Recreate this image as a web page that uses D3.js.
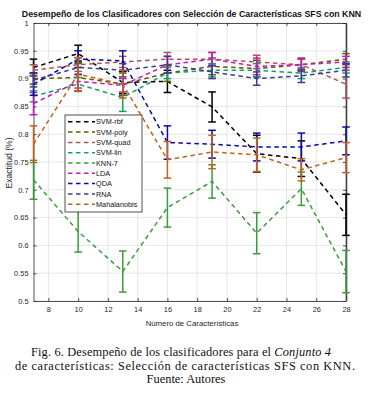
<!DOCTYPE html>
<html>
<head>
<meta charset="utf-8">
<script src="https://cdn.jsdelivr.net/npm/d3@7"></script>
<style>
  body { margin: 0; background: #fff; }
  svg { display: block; }
</style>
</head>
<body>
<script>
// numero de caracteristicas
var features = [7, 10, 13, 16, 19, 22, 25, 28];

var names = ["SVM-rbf", "SVM-poly", "SVM-quad", "SVM-lin", "KNN-7", "LDA", "QDA", "RNA", "Mahalanobis"];
var colors = ["#000000", "#5c5c00", "#b05252", "#16a060", "#3c9c3c", "#c418c4", "#0a0aa6", "#3c3c96", "#c0621e"];

// exactitud media
var svmRbf  = [0.920, 0.945, 0.893, 0.895, 0.849, 0.765, 0.756, 0.655];
var svmPoly = [0.900, 0.902, 0.890, 0.910, 0.922, 0.918, 0.925, 0.935];
var svmQuad = [0.915, 0.925, 0.930, 0.935, 0.935, 0.930, 0.925, 0.890];
var svmLin  = [0.868, 0.890, 0.866, 0.910, 0.915, 0.915, 0.910, 0.920];
var knn7    = [0.718, 0.625, 0.553, 0.668, 0.715, 0.622, 0.702, 0.553];
var lda     = [0.855, 0.895, 0.888, 0.925, 0.935, 0.922, 0.925, 0.930];
var qda     = [0.890, 0.935, 0.932, 0.785, 0.782, 0.777, 0.777, 0.788];
var rna     = [0.897, 0.920, 0.915, 0.925, 0.912, 0.900, 0.905, 0.915];
var mahal   = [0.782, 0.908, 0.890, 0.754, 0.768, 0.763, 0.736, 0.758];

// media anchura de las barras de error
var errRbf  = [0.015, 0.015, 0.020, 0.020, 0.027, 0.033, 0.032, 0.037];
var errPoly = [0.010, 0.025, 0.020, 0.015, 0.015, 0.015, 0.012, 0.010];
var errQuad = [0.010, 0.012, 0.010, 0.012, 0.012, 0.012, 0.010, 0.025];
var errLin  = [0.010, 0.012, 0.025, 0.010, 0.012, 0.012, 0.010, 0.010];
var errKnn  = [0.035, 0.037, 0.037, 0.035, 0.030, 0.037, 0.030, 0.038];
var errLda  = [0.020, 0.012, 0.012, 0.015, 0.012, 0.015, 0.010, 0.010];
var errQda  = [0.020, 0.015, 0.018, 0.030, 0.025, 0.025, 0.025, 0.025];
var errRna  = [0.012, 0.012, 0.012, 0.015, 0.012, 0.012, 0.012, 0.012];
var errMah  = [0.033, 0.030, 0.025, 0.033, 0.030, 0.030, 0.020, 0.027];

var xTicks = [8, 10, 12, 14, 16, 18, 20, 22, 24, 26, 28];
var yTicks = [0.5, 0.55, 0.6, 0.65, 0.7, 0.75, 0.8, 0.85, 0.9, 0.95, 1];

var captionLines = [
  ["Fig. 6. Desempeño de los clasificadores para el ", "Conjunto 4"],
  ["de características: Selección de características SFS con KNN."],
  ["Fuente: Autores"]
];

var means = [svmRbf, svmPoly, svmQuad, svmLin, knn7, lda, qda, rna, mahal];
var errs = [errRbf, errPoly, errQuad, errLin, errKnn, errLda, errQda, errRna, errMah];

var series = names.map(function (n, i) {
  return {
    name: n,
    color: colors[i],
    points: features.map(function (f, j) {
      return { x: f, y: means[i][j], e: errs[i][j] };
    })
  };
});

var width = 372, height = 400;
var margin = { left: 33.5, right: 26, top: 23, bottom: 99 };

var svg = d3.select("body").append("svg")
  .attr("width", width)
  .attr("height", height);

var x = d3.scaleLinear().domain([7, 28]).range([margin.left, width - margin.right]);
var y = d3.scaleLinear().domain([0.5, 1]).range([height - margin.bottom, margin.top]);

var axisFont = "'Liberation Sans', Arial, sans-serif";

//Grid
svg.append("g").selectAll("line").data(xTicks).join("line")
  .attr("x1", d => x(d)).attr("x2", d => x(d))
  .attr("y1", y(0.5)).attr("y2", y(1))
  .attr("stroke", "#e0e0e0").attr("stroke-width", 0.8);
svg.append("g").selectAll("line").data(yTicks).join("line")
  .attr("x1", x(7)).attr("x2", x(28))
  .attr("y1", d => y(d)).attr("y2", d => y(d))
  .attr("stroke", "#e0e0e0").attr("stroke-width", 0.8);

//Axes
var xAxis = svg.append("g")
  .attr("transform", "translate(0," + y(0.5) + ")")
  .call(d3.axisBottom(x).tickValues(xTicks).tickSizeInner(-3).tickSizeOuter(0).tickPadding(6));
var xAxisTop = svg.append("g")
  .attr("transform", "translate(0," + y(1) + ")")
  .call(d3.axisTop(x).tickValues(xTicks).tickSizeInner(-3).tickSizeOuter(0).tickFormat(""));
var yAxis = svg.append("g")
  .attr("transform", "translate(" + x(7) + ",0)")
  .call(d3.axisLeft(y).tickValues(yTicks).tickSizeInner(-3).tickSizeOuter(0).tickPadding(5)
    .tickFormat(d => d3.format("")(+d.toFixed(2))));
var yAxisRight = svg.append("g")
  .attr("transform", "translate(" + x(28) + ",0)")
  .call(d3.axisRight(y).tickValues(yTicks).tickSizeInner(-3).tickSizeOuter(0).tickFormat(""));

[xAxis, xAxisTop, yAxis, yAxisRight].forEach(function (g) {
  g.select(".domain").attr("stroke", "#262626").attr("stroke-width", 0.8);
  g.selectAll(".tick line").attr("stroke", "#262626").attr("stroke-width", 0.8);
  g.selectAll(".tick text").attr("font-family", axisFont).attr("font-size", 7.4).attr("fill", "#262626");
});
yAxisRight.select(".domain").attr("stroke-width", 1.6).attr("stroke", "#444");

//Series: dashed lines with error bars
var line = d3.line().x(d => x(d.x)).y(d => y(d.y));
var cap = 3.8;

series.forEach(function (s) {
  var g = svg.append("g");
  g.append("path")
    .datum(s.points)
    .attr("d", line)
    .attr("fill", "none")
    .attr("stroke", s.color)
    .attr("stroke-width", 1.5)
    .attr("stroke-dasharray", "4.5,3.5");
  var bars = g.selectAll(".bar").data(s.points).join("g").attr("class", "bar");
  bars.append("line")
    .attr("x1", d => x(d.x)).attr("x2", d => x(d.x))
    .attr("y1", d => y(d.y - d.e)).attr("y2", d => y(d.y + d.e));
  bars.append("line")
    .attr("x1", d => x(d.x) - cap).attr("x2", d => x(d.x) + cap)
    .attr("y1", d => y(d.y - d.e)).attr("y2", d => y(d.y - d.e));
  bars.append("line")
    .attr("x1", d => x(d.x) - cap).attr("x2", d => x(d.x) + cap)
    .attr("y1", d => y(d.y + d.e)).attr("y2", d => y(d.y + d.e));
  bars.selectAll("line").attr("stroke", s.color).attr("stroke-width", 1.5);
});

//Legend
var legend = svg.append("g").attr("transform", "translate(65,115)");
legend.append("rect")
  .attr("width", 77).attr("height", 97)
  .attr("fill", "#fff").attr("stroke", "#262626").attr("stroke-width", 0.8);
var items = legend.selectAll(".item").data(series).join("g")
  .attr("class", "item")
  .attr("transform", (d, i) => "translate(0," + (6.8 + i * 10.3) + ")");
items.append("line")
  .attr("x1", 3).attr("x2", 30).attr("y1", 0).attr("y2", 0)
  .attr("stroke", d => d.color).attr("stroke-width", 1.5)
  .attr("stroke-dasharray", "4.5,3.5");
items.append("text")
  .attr("x", 31).attr("y", 2.6)
  .attr("font-family", axisFont).attr("font-size", 7.3).attr("fill", "#111")
  .text(d => d.name);

//Titles
svg.append("text")
  .attr("x", 191.5).attr("y", 17)
  .attr("text-anchor", "middle")
  .attr("font-family", axisFont).attr("font-weight", "bold").attr("font-size", 8.8)
  .attr("fill", "#111")
  .text("Desempeño de los Clasificadores con Selección de Características SFS con KNN");

svg.append("text")
  .attr("x", 192).attr("y", 326)
  .attr("text-anchor", "middle")
  .attr("font-family", axisFont).attr("font-size", 7.8).attr("fill", "#262626")
  .text("Número de Características");

svg.append("text")
  .attr("transform", "translate(11.5," + (y(0.75) + 1) + ") rotate(-90)")
  .attr("text-anchor", "middle")
  .attr("font-family", axisFont).attr("font-size", 8.6).attr("fill", "#262626")
  .text("Exactitud (%)");

//Caption, first two lines stretched to the widths seen in the figure
var captionX = [181, 185, 186];
var captionW = [300, 340, null];
var caption = svg.append("g");
captionLines.forEach(function (parts, i) {
  var t = caption.append("text")
    .attr("y", 356 + i * 13.6)
    .attr("font-family", "'Liberation Serif', 'DejaVu Serif', serif")
    .attr("font-size", 12.4).attr("fill", "#111");
  if (captionW[i]) {
    t.attr("x", captionX[i] - captionW[i] / 2)
      .attr("textLength", captionW[i])
      .attr("lengthAdjust", "spacing");
  } else {
    t.attr("x", captionX[i]).attr("text-anchor", "middle");
  }
  parts.forEach(function (p, k) {
    t.append("tspan").attr("font-style", k === 1 ? "italic" : "normal").text(p);
  });
});
</script>
</body>
</html>
